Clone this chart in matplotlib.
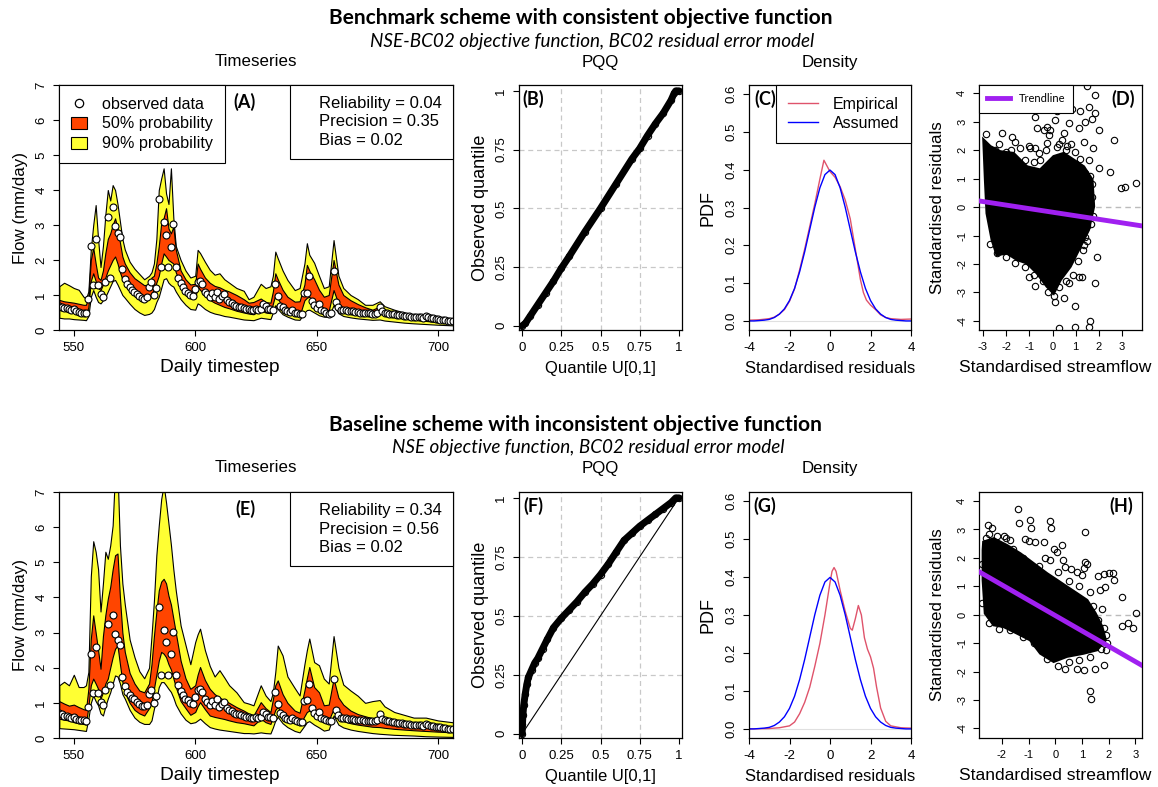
import numpy as np
import matplotlib
matplotlib.use("Agg")
import matplotlib.pyplot as plt
from matplotlib.patches import Patch
from matplotlib.lines import Line2D

plt.rcParams['font.family'] = ['Liberation Sans', 'DejaVu Sans']
plt.rcParams['axes.unicode_minus'] = False

# ---------------- data ----------------
# observed flow, one value per day from 544 to 706 (shared by both schemes)
obs_days = np.arange(544, 707)
obs_flow = [0.70, 0.67, 0.63, 0.62, 0.60, 0.58, 0.60, 0.55, 0.52, 0.50, 0.50, 0.48,
            0.88, 2.40, 1.29, 2.59, 1.29, 1.02, 0.93, 1.38, 3.24, 1.50, 3.51, 2.97, 2.78, 2.65,
            1.75, 1.47, 1.32, 1.22, 1.15, 1.10, 1.03, 0.97, 0.92, 0.90, 0.95, 1.24, 1.36, 1.00, 1.19,
            3.73, 1.80, 3.08, 2.72, 1.80, 2.38, 3.03, 1.79, 1.50, 1.35, 1.22, 1.12, 1.07, 1.00, 0.98,
            1.16, 1.36, 1.40, 1.31, 1.10, 1.03, 0.95, 1.05, 0.93, 1.10, 0.88, 0.98, 1.03, 0.86, 0.81,
            0.76, 0.72, 0.69, 0.67, 0.65, 0.62, 0.60, 0.59, 0.57, 0.57, 0.59, 0.58, 0.60, 0.74, 0.69,
            0.59, 0.60, 0.58, 1.32, 0.98, 0.70, 0.65, 0.58, 0.55, 0.52, 0.56, 0.50, 0.48, 0.45, 0.46,
            1.05, 1.07, 1.54, 0.84, 0.72, 0.62, 0.75, 0.58, 0.53, 0.50, 0.47, 0.48, 1.68, 0.80, 0.65,
            0.58, 0.57, 0.56, 0.55, 0.54, 0.53, 0.52, 0.51, 0.50, 0.50, 0.49, 0.48, 0.48, 0.47, 0.47,
            0.50, 0.67, 0.55, 0.50, 0.48, 0.47, 0.46, 0.45, 0.44, 0.43, 0.42, 0.41, 0.40, 0.39, 0.38,
            0.38, 0.37, 0.36, 0.36, 0.35, 0.40, 0.36, 0.34, 0.33, 0.32, 0.31, 0.30, 0.29, 0.28, 0.27,
            0.26, 0.25]

# predictive limits (5%, 25%, 75%, 95%) at these days
band_days = [544, 546, 548, 550, 552, 554, 555,
             556, 557, 558, 559, 560, 561, 562, 563, 564, 565, 566, 567, 568, 569, 570, 571,
             573, 575, 577, 579, 581,
             582, 583, 584, 585, 586, 587, 588, 589, 590, 591, 592,
             594, 596, 598, 600,
             601, 602,
             604, 606, 608, 610, 612, 614, 617, 620, 622, 624, 627, 629, 631,
             632, 633, 634,
             636, 638, 641, 643, 645, 646, 647, 649, 651, 653, 655, 657, 659, 661, 664, 667, 670,
             673, 676, 678, 682, 686, 690, 695, 700, 707]

# Benchmark scheme
q95_a = [1.25, 1.35, 1.28, 1.20, 1.15, 0.95, 0.90,
         1.10, 2.30, 3.00, 3.57, 2.60, 1.80, 2.40, 3.30, 4.00, 3.70, 4.14, 4.00, 3.60, 3.10, 2.60, 2.30,
         1.95, 1.75, 1.60, 1.45, 1.55,
         1.65, 1.90, 2.60, 4.00, 4.33, 4.62, 3.90, 3.60, 4.62, 3.20, 2.40,
         2.00, 1.70, 1.50, 1.55,
         2.29, 2.20,
         1.95, 1.72, 1.58, 1.62, 1.45, 1.35, 1.20, 1.12, 0.88, 0.95, 1.32, 1.20, 1.25,
         1.55, 2.24, 2.05,
         1.70, 1.43, 1.14, 1.20, 1.90, 2.48, 2.15, 1.92, 1.55, 1.20, 1.25, 2.57, 1.55, 1.20, 1.00, 0.88, 0.72,
         0.72, 0.82, 0.68, 0.58, 0.50, 0.44, 0.46, 0.38, 0.32]
q75_a = [0.86, 0.82, 0.80, 0.78, 0.75, 0.72, 0.72,
         0.95, 2.00, 2.35, 1.90, 1.50, 1.43, 1.70, 2.20, 2.60, 2.76, 3.00, 3.19, 2.90, 2.50, 2.10, 1.90,
         1.65, 1.48, 1.38, 1.28, 1.30,
         1.50, 1.55, 1.90, 2.40, 3.05, 3.20, 3.48, 2.90, 2.76, 2.95, 2.30,
         1.70, 1.45, 1.30, 1.32,
         1.90, 1.75,
         1.50, 1.35, 1.26, 1.22, 1.15, 1.10, 1.00, 0.88, 0.78, 0.80, 0.90, 0.80, 0.78,
         1.10, 1.62, 1.45,
         1.15, 0.95, 0.81, 0.82, 1.30, 1.86, 1.70, 1.45, 1.15, 0.95, 1.00, 2.00, 1.30, 1.00, 0.85, 0.74, 0.65,
         0.58, 0.67, 0.56, 0.48, 0.42, 0.38, 0.33, 0.28, 0.24]
q25_a = [0.57, 0.55, 0.52, 0.50, 0.47, 0.44, 0.43,
         0.65, 1.40, 1.62, 1.40, 1.20, 1.14, 1.30, 1.50, 1.70, 1.85, 2.00, 2.10, 1.90, 1.65, 1.45, 1.35,
         1.18, 1.05, 0.95, 0.88, 0.92,
         1.05, 1.15, 1.35, 1.55, 1.90, 2.19, 2.10, 2.00, 1.95, 1.90, 1.65,
         1.30, 1.08, 0.95, 0.90,
         1.24, 1.15,
         0.98, 0.86, 0.78, 0.72, 0.66, 0.62, 0.55, 0.50, 0.47, 0.45, 0.57, 0.50, 0.48,
         0.75, 1.00, 0.90,
         0.67, 0.55, 0.42, 0.40, 0.85, 0.92, 0.95, 0.80, 0.62, 0.52, 0.55, 1.14, 0.75, 0.62, 0.55, 0.48, 0.45,
         0.42, 0.48, 0.42, 0.38, 0.34, 0.30, 0.26, 0.22, 0.19]
q05_a = [0.35, 0.33, 0.33, 0.31, 0.30, 0.29, 0.28,
         0.40, 0.95, 1.14, 0.95, 0.80, 0.76, 0.85, 0.95, 1.10, 1.25, 1.40, 1.43, 1.30, 1.15, 1.00, 0.92,
         0.75, 0.60, 0.50, 0.43, 0.46,
         0.50, 0.60, 0.80, 0.95, 1.20, 1.45, 1.48, 1.35, 1.28, 1.24, 1.10,
         0.88, 0.72, 0.60, 0.58,
         0.76, 0.72,
         0.60, 0.52, 0.47, 0.44, 0.40, 0.38, 0.34, 0.30, 0.29, 0.28, 0.35, 0.33, 0.31,
         0.50, 0.71, 0.60,
         0.45, 0.38, 0.30, 0.29, 0.50, 0.57, 0.58, 0.50, 0.42, 0.38, 0.38, 0.71, 0.48, 0.40, 0.36, 0.33, 0.31,
         0.29, 0.30, 0.27, 0.24, 0.21, 0.19, 0.17, 0.15, 0.13]

# Baseline scheme
q95_e = [1.50, 1.60, 1.50, 1.80, 1.45, 1.45, 1.50,
         1.88, 4.60, 5.60, 5.30, 4.80, 3.60, 4.40, 5.30, 5.10, 5.48, 6.05, 7.60, 7.60, 5.48, 4.40, 3.80,
         2.80, 2.30, 1.90, 1.70, 2.00,
         2.90, 3.90, 5.20, 6.05, 6.80, 7.20, 6.70, 6.10, 5.50, 4.80, 4.20,
         3.20, 2.65, 2.10, 2.73,
         2.95, 3.11,
         2.50, 2.05, 1.75, 1.93, 1.72, 1.50, 1.30, 1.02, 0.98, 0.93, 1.50, 1.21, 1.05,
         1.30, 1.88, 2.63,
         2.35, 1.75, 1.42, 1.21, 2.10, 2.50, 2.83, 2.16, 2.07, 1.69, 1.55, 2.90, 2.00, 1.52, 1.35, 1.20, 1.00,
         1.05, 1.08, 0.90, 0.74, 0.66, 0.58, 0.58, 0.50, 0.44]
q75_e = [1.05, 0.98, 0.92, 0.95, 0.88, 0.82, 0.80,
         1.40, 2.82, 3.49, 3.00, 2.50, 1.97, 2.90, 3.50, 3.96, 4.30, 4.80, 5.20, 5.25, 4.00, 3.00, 2.45,
         1.85, 1.55, 1.35, 1.30, 1.55,
         2.10, 2.90, 3.59, 4.20, 4.45, 4.53, 4.40, 4.05, 3.80, 3.40, 3.00,
         2.20, 1.70, 1.40, 1.50,
         1.80, 2.02,
         1.65, 1.40, 1.25, 1.15, 1.08, 1.00, 0.88, 0.78, 0.70, 0.64, 1.02, 0.85, 0.74,
         1.10, 1.50, 1.64,
         1.25, 1.00, 0.78, 0.72, 1.35, 1.70, 2.02, 1.45, 1.30, 0.93, 0.95, 1.69, 1.15, 0.95, 0.78, 0.68, 0.62,
         0.56, 0.55, 0.50, 0.45, 0.42, 0.39, 0.36, 0.33, 0.30]
q25_e = [0.55, 0.52, 0.50, 0.45, 0.42, 0.40, 0.38,
         0.90, 1.50, 1.69, 1.55, 1.40, 1.12, 1.30, 1.55, 1.69, 2.00, 2.30, 2.54, 2.63, 2.10, 1.60, 1.30,
         1.00, 0.80, 0.70, 0.64, 0.85,
         1.02, 1.40, 1.80, 2.20, 2.45, 2.40, 2.30, 2.10, 1.95, 1.70, 1.45,
         1.05, 0.85, 0.66, 0.74,
         0.90, 1.02,
         0.82, 0.64, 0.60, 0.57, 0.54, 0.50, 0.45, 0.42, 0.39, 0.36, 0.55, 0.45, 0.40,
         0.60, 0.80, 0.88,
         0.65, 0.53, 0.42, 0.36, 0.62, 0.74, 0.78, 0.68, 0.60, 0.50, 0.50, 0.83, 0.55, 0.48, 0.42, 0.38, 0.35,
         0.32, 0.31, 0.29, 0.26, 0.24, 0.22, 0.20, 0.18, 0.16]
q05_e = [0.28, 0.27, 0.26, 0.25, 0.23, 0.21, 0.20,
         0.55, 1.00, 1.21, 1.05, 0.93, 0.70, 0.64, 0.90, 1.12, 1.30, 1.55, 1.78, 1.75, 1.55, 1.25, 1.12,
         0.80, 0.58, 0.46, 0.40, 0.40,
         0.50, 0.83, 1.10, 1.45, 1.59, 1.59, 1.50, 1.40, 1.31, 1.15, 0.95,
         0.70, 0.52, 0.42, 0.45,
         0.50, 0.55,
         0.42, 0.31, 0.27, 0.24, 0.22, 0.20, 0.17, 0.14, 0.14, 0.13, 0.16, 0.14, 0.13,
         0.30, 0.50, 0.60,
         0.42, 0.31, 0.20, 0.16, 0.35, 0.45, 0.48, 0.38, 0.30, 0.21, 0.24, 0.64, 0.38, 0.30, 0.24, 0.20, 0.17,
         0.14, 0.12, 0.11, 0.09, 0.08, 0.07, 0.05, 0.04, 0.03]

stats_a = ['Reliability = 0.04', 'Precision = 0.35', 'Bias = 0.02']
stats_e = ['Reliability = 0.34', 'Precision = 0.56', 'Bias = 0.02']

# PQQ curves
qq_b_x = [0, 0.02, 0.05, 0.1, 0.15, 0.2, 0.25, 0.3, 0.4, 0.5, 0.6, 0.7, 0.75, 0.8, 0.85, 0.9, 0.95, 0.97, 0.98, 1.0]
qq_b_y = [0, 0.01, 0.04, 0.09, 0.14, 0.19, 0.245, 0.295, 0.40, 0.50, 0.605, 0.71, 0.755, 0.81, 0.86, 0.905, 0.96, 0.99, 1.0, 1.0]
qq_f_x = [0, 0.002, 0.005, 0.01, 0.02, 0.03, 0.04, 0.06, 0.08, 0.1, 0.13, 0.16, 0.2, 0.25, 0.3,
          0.35, 0.4, 0.45, 0.5, 0.55, 0.6, 0.65, 0.7, 0.75, 0.8, 0.85, 0.9, 0.95, 0.98, 1.0]
qq_f_y = [0, 0.04, 0.08, 0.12, 0.17, 0.21, 0.24, 0.27, 0.30, 0.32, 0.36, 0.40, 0.45, 0.49, 0.525,
          0.56, 0.60, 0.635, 0.675, 0.72, 0.77, 0.82, 0.85, 0.88, 0.905, 0.93, 0.955, 0.98, 1.0, 1.0]

# densities
assumed_x = np.arange(-4, 4.01, 0.25)
assumed_pdf = [0.000, 0.000, 0.001, 0.002, 0.004, 0.009, 0.018, 0.032, 0.054, 0.086, 0.130, 0.183,
               0.242, 0.301, 0.352, 0.387, 0.399, 0.387, 0.352, 0.301, 0.242, 0.183, 0.130, 0.086,
               0.054, 0.032, 0.018, 0.009, 0.004, 0.002, 0.001, 0.000, 0.000]
emp_c_x = [-4, -3.5, -3, -2.75, -2.5, -2.25, -2, -1.75, -1.5, -1.25, -1, -0.75, -0.5, -0.3, -0.15, 0,
           0.25, 0.5, 0.75, 1, 1.25, 1.5, 1.65, 1.8, 2, 2.25, 2.5, 2.75, 3, 3.5, 4]
emp_c_y = [0.002, 0.003, 0.006, 0.010, 0.018, 0.030, 0.052, 0.085, 0.135, 0.19, 0.25, 0.31, 0.375, 0.425,
           0.41, 0.395, 0.38, 0.355, 0.32, 0.27, 0.19, 0.11, 0.075, 0.055, 0.042, 0.03, 0.016, 0.009,
           0.006, 0.004, 0.005]
emp_g_x = [-4, -3, -2.5, -2, -1.75, -1.5, -1.25, -1, -0.75, -0.5, -0.25, 0, 0.1, 0.2, 0.3, 0.5, 0.75,
           1.0, 1.1, 1.25, 1.4, 1.55, 1.7, 1.85, 2.0, 2.15, 2.3, 2.5, 2.75, 3, 3.5, 4]
emp_g_y = [0, 0.001, 0.003, 0.008, 0.018, 0.04, 0.07, 0.11, 0.165, 0.225, 0.30, 0.385, 0.415, 0.425,
           0.415, 0.365, 0.31, 0.265, 0.26, 0.29, 0.325, 0.30, 0.24, 0.21, 0.19, 0.16, 0.11, 0.055,
           0.02, 0.008, 0.003, 0.002]

# residual vs streamflow: dense core outline, individual points, trendline
cloud_d_x = [-2.97, -2.68, -2.25, -1.68, -1.10, -0.53, 0.05, 0.48, 0.91, 1.35, 1.71, 1.78, 1.56,
             1.20, 0.77, 0.34, 0.05, -0.24, -0.67, -1.10, -1.53, -1.96, -2.40, -2.61, -2.83, -2.90]
cloud_d_y = [2.36, 2.13, 1.95, 1.89, 1.42, 1.31, 1.78, 1.89, 1.66, 1.42, 0.96, 0.02, -0.80,
             -1.39, -2.09, -2.56, -3.03, -2.79, -2.32, -1.97, -1.85, -1.62, -1.68, -1.15, -0.22, 0.96]
pts_d_x = [-2.86, -2.18, -1.75, -1.60, -1.39, -1.03, -0.96, -0.74, -0.74, -0.67, -0.53, -0.38, -0.24,
           -0.24, -0.17, -0.09, 0.12, 0.19, 0.41, 0.48, 0.63, 0.70, 0.84, 0.99, 1.13, 1.20, 1.35, 1.42,
           1.49, 1.56, 1.56, 1.71, 1.75, 1.82, 1.85, 1.99, 1.99, 2.47, 2.64, 2.96, 3.12, 3.58, 1.49,
           1.71, 1.49, 1.42, 1.35, 1.27, 1.92, 1.82, 0.99, 1.63, 1.56, 0.99, 0.27, -0.74, -1.03, 0.05,
           0.12, 0.48, 0.70, 1.13,
           -2.5, -2.3, -2.0, -1.8, -1.5, -1.2, -0.8, -0.6, -0.3, 0.2, 0.3, 0.6, 0.8, 1.0, 1.2, 1.4,
           1.6, 1.7, 1.75, 1.65, 1.5, 1.3, 1.1, 0.9, 0.6, 0.3, -0.2, -0.4, -0.8, -1.2, -1.6, -2.0,
           -2.4, -2.7]
pts_d_y = [2.57, 2.59, 2.45, 2.30, 2.07, 2.13, 2.07, 2.07, 3.18, 2.77, 1.66, 2.71, 2.83, 2.24, 2.54,
           2.71, 3.06, 3.36, 2.36, 2.59, 2.13, 2.95, 3.44, 1.95, 2.77, 3.36, 2.30, 3.00, 4.25, 3.53,
           1.66, 3.09, 2.07, 3.30, 3.94, 2.71, 1.37, 1.25, 2.36, 0.66, 0.72, 0.84, 0.60, 0.37, -0.68,
           -1.04, -1.33, -2.44, -1.74, -2.67, -3.49, -4.02, -4.20, -4.20, -4.26, -2.79, -2.44, -3.14,
           -3.32, -3.20, -2.67, -2.44,
           2.0, 2.2, 1.95, 2.0, 1.6, 1.65, 1.6, 1.9, 2.0, 2.1, 2.2, 2.0, 2.2, 1.5, 1.7, 1.2,
           1.1, 0.8, -0.3, -0.6, -1.2, -1.5, -1.9, -2.4, -2.6, -2.8, -3.0, -2.6, -2.4, -2.1, -1.95,
           -1.75, -1.6, -1.3]
trend_d = (-0.18, -0.125)   # intercept, slope

cloud_h_x = [-2.69, -2.31, -1.81, -1.31, -0.81, -0.31, 0.06, 0.44, 0.81, 1.19, 1.50, 1.75, 1.88,
             1.56, 1.06, 0.44, -0.06, -0.56, -0.94, -1.44, -1.94, -2.31, -2.63, -2.71, -2.71]
cloud_h_y = [2.56, 2.68, 2.44, 2.15, 1.80, 1.45, 1.22, 0.98, 0.75, 0.51, 0.05, -0.42, -0.89,
             -1.24, -1.36, -1.47, -1.65, -1.36, -0.89, -0.65, -0.42, -0.36, 0.05, 1.22, 2.27]
pts_h_x = [-2.53, -2.38, -2.49, -2.19, -1.91, -1.84, -1.69, -1.38, -1.35, -0.94, -0.91, -1.13, -1.00,
           -0.75, -0.44, -0.19, -0.16, -0.06, -0.19, 0.29, 0.25, 0.06, 0.38, 0.81, 1.00, 1.13, 1.13,
           1.19, 1.06, 1.60, 1.81, 2.00, 2.16, 2.19, 1.88, 1.69, 2.50, 2.50, 2.72, 2.90, 3.02, 1.91,
           1.81, 1.50, 1.06, 0.81, 0.38, 1.31, 1.35, 1.81,
           -2.6, -2.2, -1.6, -1.2, -0.6, -0.4, 0.1, 0.5, 0.6, 0.9, 1.3, 1.4, 1.6, 1.75, 1.9, 1.95,
           1.7, 1.3, 0.9, 0.5, 0.1, -0.3, -0.8, -1.2, -1.7, -2.1, -2.5, -2.75, -2.75]
pts_h_y = [3.15, 3.06, 2.85, 2.76, 2.76, 2.71, 2.64, 3.71, 3.23, 3.35, 3.05, 2.68, 2.58, 2.56, 2.56,
           3.29, 3.05, 2.33, 1.94, 1.92, 2.44, 2.21, 1.68, 1.51, 1.39, 2.91, 1.86, 1.80, 1.63, 1.37,
           1.45, 1.47, 1.48, 1.22, 0.98, 0.87, 0.61, -0.39, -0.30, -0.48, 0.07, -1.24, -1.77, -1.91,
           -1.96, -1.91, -1.91, -2.67, -2.96, -0.48,
           2.7, 2.5, 2.3, 2.0, 1.7, 2.0, 1.5, 1.2, 1.6, 1.0, 0.8, 0.3, -0.2, 0.2, -0.7, -1.0,
           -1.2, -1.5, -1.6, -1.65, -1.8, -1.55, -1.0, -0.8, -0.55, -0.5, -0.3, 0.4, 1.8]
trend_h = (-0.03, -0.54)

# ---------------- styling ----------------
orange = '#FF4500'
yellow = '#FFFF33'
purple = '#A020F0'
W, H = 1158, 787
fig = plt.figure(figsize=(W / 100, H / 100), dpi=100)


def add_panel(l, r, t, b, tick_size=9.5):
    ax = fig.add_axes([l / W, 1 - b / H, (r - l) / W, (b - t) / H])
    for s in ax.spines.values():
        s.set_linewidth(0.9)
    ax.tick_params(direction='out', length=4.5, width=0.8, labelsize=tick_size, pad=4)
    ax.tick_params(axis='y', labelrotation=90)
    return ax


def finish_y(ax):
    for lbl in ax.get_yticklabels():
        lbl.set_va('center')


def panel_label(ax, x, y, s):
    ax.text(x, y, s, transform=ax.transAxes, ha='center', va='center',
            fontsize=13, fontweight='bold', family='Lato', zorder=10)


def timeseries(ax, q05, q25, q75, q95, stats, label, legend=False):
    ax.fill_between(band_days, q05, q95, facecolor=yellow, edgecolor='black', lw=0.8)
    ax.fill_between(band_days, q25, q75, facecolor=orange, edgecolor='black', lw=0.8)
    ax.plot(obs_days, obs_flow, 'o', mfc='white', mec='black', ms=5, mew=0.8)
    ax.set_xlim(543.9, 706.2)
    ax.set_ylim(0, 7)
    ax.set_xticks([550, 600, 650, 700])
    ax.set_yticks(range(8))
    ax.set_xlabel('Daily timestep', fontsize=13.8)
    ax.xaxis.set_label_coords(0.409, -0.118)
    ax.set_ylabel('Flow (mm/day)', fontsize=12.2, labelpad=5.5)
    finish_y(ax)
    if legend:
        h = [Line2D([], [], ls='none', marker='o', mfc='white', mec='black', ms=6, mew=0.9),
             Patch(fc=orange, ec='black', lw=0.8), Patch(fc=yellow, ec='black', lw=0.8)]
        leg = ax.legend(h, ['observed data', '50% probability', '90% probability'],
                        loc='upper left', fancybox=False, edgecolor='black', framealpha=1,
                        borderaxespad=0, fontsize=11.6, handlelength=1.0, handleheight=0.75,
                        handletextpad=0.97, borderpad=0.72, labelspacing=0.3)
        leg.get_frame().set_linewidth(0.8)
        ax.add_artist(leg)
    hs = [Line2D([], [], ls='none') for _ in stats]
    leg2 = ax.legend(hs, stats, loc='upper right', fancybox=False, edgecolor='black',
                     framealpha=1, borderaxespad=0, fontsize=12, handlelength=0.6,
                     handletextpad=0.5, borderpad=0.64, labelspacing=0.23)
    leg2.get_frame().set_linewidth(0.8)
    panel_label(ax, 0.472, 0.93, label)


def pqq(ax, qx, qy, label, diag=False):
    for v in [0.25, 0.5, 0.75]:
        ax.axvline(v, color='#C8C8C8', lw=0.9, ls=(0, (4, 3)), zorder=0)
        ax.axhline(v, color='#C8C8C8', lw=0.9, ls=(0, (4, 3)), zorder=0)
    if diag:
        ax.plot([0, 1], [0, 1], color='black', lw=0.8)
    ax.plot(qx, qy, color='black', lw=5, solid_capstyle='round')
    ax.plot(qx, qy, 'o', mfc='none', mec='black', ms=4.5, mew=0.8)
    ax.set_xlim(-0.02, 1.02)
    ax.set_ylim(-0.018, 1.025)
    ticks = [0, 0.25, 0.5, 0.75, 1]
    tl = ['0', '0.25', '0.5', '0.75', '1']
    ax.set_xticks(ticks)
    ax.set_xticklabels(tl)
    ax.set_yticks(ticks)
    ax.set_yticklabels(tl)
    ax.set_xlabel('Quantile U[0,1]', fontsize=12, labelpad=5)
    ax.set_ylabel('Observed quantile', fontsize=13, labelpad=4.5)
    finish_y(ax)
    panel_label(ax, 0.09, 0.945, label)


def density(ax, ex, ey, label, legend=False):
    ax.axhline(0, color='#E0E0E0', lw=0.8, zorder=0)
    ax.plot(ex, ey, color='#DF536B', lw=1.0)
    ax.plot(assumed_x, assumed_pdf, color='#0000FF', lw=1.0)
    ax.set_xlim(-4, 4)
    ax.set_ylim(-0.024, 0.624)
    ax.set_xticks([-4, -2, 0, 2, 4])
    ax.set_yticks([0, 0.1, 0.2, 0.3, 0.4, 0.5, 0.6])
    ax.set_yticklabels(['0.0', '0.1', '0.2', '0.3', '0.4', '0.5', '0.6'])
    ax.set_xlabel('Standardised residuals', fontsize=12, labelpad=5)
    ax.set_ylabel('PDF', fontsize=13, labelpad=6.5)
    finish_y(ax)
    if legend:
        h = [Line2D([], [], color='#DF536B', lw=1.0), Line2D([], [], color='#0000FF', lw=1.0)]
        leg = ax.legend(h, ['Empirical', 'Assumed'], loc='upper right', fancybox=False,
                        edgecolor='black', framealpha=1, borderaxespad=0, fontsize=11.5,
                        handlelength=1.9, handletextpad=0.9, borderpad=0.75, labelspacing=0.25)
        leg.get_frame().set_linewidth(0.8)
    panel_label(ax, 0.1, 0.945, label)


def resid(ax, cx, cy, px, py, trend, xlim, ylim, xticks, label, lx, legend=False):
    ax.axhline(0, color='#BBBBBB', lw=1.0, ls=(0, (4, 3)), zorder=0)
    ax.fill(cx, cy, color='black', lw=2.0, ec='black', zorder=2)
    ax.plot(px, py, 'o', mfc='none', mec='black', ms=4.6, mew=0.8, zorder=3)
    ax.axline((0, trend[0]), slope=trend[1], color=purple, lw=3.5, zorder=4)
    ax.set_xlim(*xlim)
    ax.set_ylim(*ylim)
    ax.set_xticks(xticks)
    ax.set_yticks(range(-4, 5))
    ax.tick_params(labelsize=8)
    ax.set_xlabel('Standardised streamflow', fontsize=12.6)
    ax.xaxis.set_label_coords(0.465, -0.122)
    ax.set_ylabel('Standardised residuals', fontsize=12.2, labelpad=8.5)
    finish_y(ax)
    if legend:
        h = [Line2D([], [], color=purple, lw=3.5)]
        leg = ax.legend(h, ['Trendline'], loc='upper left', fancybox=False, edgecolor='black',
                        framealpha=1, borderaxespad=0, prop={'family': 'Lato', 'size': 8},
                        handlelength=2.0, handletextpad=0.8, borderpad=0.75)
        leg.get_frame().set_linewidth(0.8)
        leg.set_zorder(10)
    panel_label(ax, lx, 0.945, label)


# ---------------- row 1: benchmark ----------------
ax_a = add_panel(59, 453, 85, 330)
timeseries(ax_a, q05_a, q25_a, q75_a, q95_a, stats_a, '(A)', legend=True)
ax_b = add_panel(519, 682, 85, 330)
pqq(ax_b, qq_b_x, qq_b_y, '(B)')
ax_c = add_panel(749, 911, 85, 330)
density(ax_c, emp_c_x, emp_c_y, '(C)', legend=True)
ax_d = add_panel(979, 1142, 85, 330)
resid(ax_d, cloud_d_x, cloud_d_y, pts_d_x, pts_d_y, trend_d, (-3.17, 3.86), (-4.32, 4.29),
      range(-3, 4), '(D)', 0.885, legend=True)

# ---------------- row 2: baseline ----------------
ax_e = add_panel(59, 453, 492, 738)
timeseries(ax_e, q05_e, q25_e, q75_e, q95_e, stats_e, '(E)')
ax_f = add_panel(519, 682, 492, 738)
pqq(ax_f, qq_f_x, qq_f_y, '(F)', diag=True)
ax_g = add_panel(749, 911, 492, 738)
density(ax_g, emp_g_x, emp_g_y, '(G)')
ax_h = add_panel(979, 1142, 492, 738)
resid(ax_h, cloud_h_x, cloud_h_y, pts_h_x, pts_h_y, trend_h, (-2.86, 3.25), (-4.34, 4.32),
      range(-2, 4), '(H)', 0.87)

# ---------------- titles ----------------
def ftext(x, y, s, **kw):
    fig.text(x / W, 1 - y / H, s, ha='center', va='center', **kw)


ftext(581, 18, 'Benchmark scheme with consistent objective function', fontsize=15,
      fontweight='bold', family='Lato')
ftext(592, 42, 'NSE-BC02 objective function, BC02 residual error model', fontsize=13.6,
      style='italic', family='Lato')
ftext(575, 425, 'Baseline scheme with inconsistent objective function', fontsize=15,
      fontweight='bold', family='Lato')
ftext(588, 448, 'NSE objective function, BC02 residual error model', fontsize=13.6,
      style='italic', family='Lato')
for y in (62, 468):
    ftext(256, y, 'Timeseries', fontsize=12.2)
    ftext(600, y, 'PQQ', fontsize=12.2)
    ftext(830, y, 'Density', fontsize=12.2)

fig.savefig('out.png', dpi=100)
plt.close('all')
